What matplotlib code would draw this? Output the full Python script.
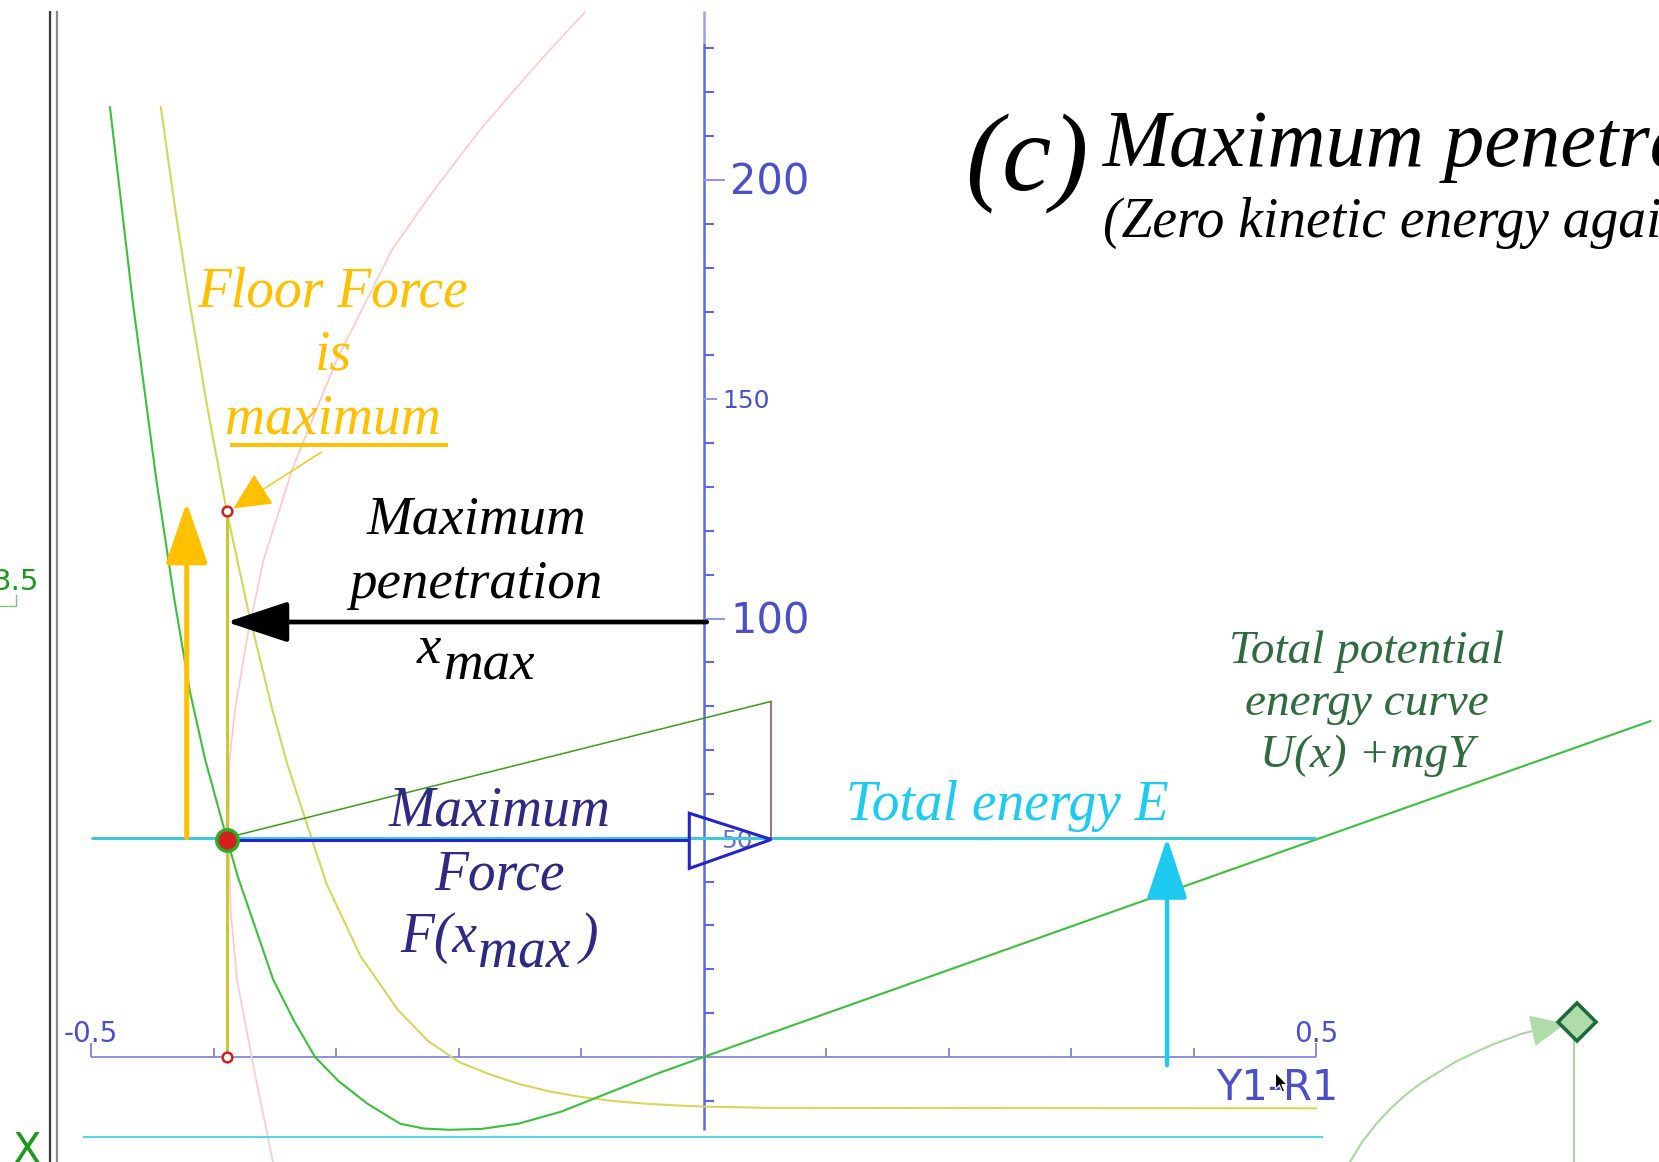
import numpy as np
import matplotlib.pyplot as plt
from matplotlib.path import Path

plt.rcParams['font.family'] = ['DejaVu Sans']
SERIF = 'Liberation Serif'

# total potential energy U(x) + mgY
green_x = [-0.4845, -0.466, -0.4465, -0.4318, -0.419, -0.4067, -0.3893, -0.380, -0.3512,
           -0.334, -0.3171, -0.2979, -0.2746, -0.2478, -0.2288, -0.2073, -0.1813, -0.1511,
           -0.1166, -0.0777, -0.0389, 0.0, 0.25, 0.5, 0.773]
green_y = [216.6, 172.4, 131.3, 104.1, 83.0, 67.7, 50.0, 41.0, 17.6,
           8.1, 0.0, -5.5, -10.6, -15.2, -16.3, -16.6, -16.4, -15.2,
           -12.5, -8.2, -3.9, 0.0, 24.8, 49.6, 76.6]

# floor force curve
floor_x = [-0.443, -0.4315, -0.4197, -0.4045, -0.3893, -0.371, -0.3525, -0.3398, -0.3076,
           -0.28, -0.2494, -0.225, -0.200, -0.175, -0.150, -0.125, -0.100, -0.075,
           -0.050, -0.025, 0.0, 0.05, 0.5]
floor_y = [216.6, 193.8, 172.4, 147.3, 124.6, 101.0, 79.8, 66.8, 39.4,
           23.0, 10.7, 3.7, -1.1, -3.9, -6.2, -7.9, -9.1, -10.0,
           -10.6, -11.0, -11.3, -11.6, -11.7]

# faint pink curve
pink_x = [-0.0967, -0.1364, -0.1813, -0.2211, -0.2547, -0.2997, -0.3351, -0.3592,
          -0.3722, -0.3826, -0.3869, -0.3877, -0.3860, -0.3808, -0.3670, -0.3515]
pink_y = [238.3, 226.3, 211.8, 197.3, 183.9, 158.8, 134.5, 113.3,
          96.1, 79.0, 67.7, 50.4, 33.5, 17.6, -2.7, -23.9]

energy_E = 50.0
x_max = -0.3893
f_max = 124.6
force_level = 49.6

# maximum force arrow head (outline)
force_head_x = [-0.0116, 0.0553, -0.0116, -0.0116]
force_head_y = [55.6, 49.6, 43.0, 55.6]

# slope line and its vertical leg
slope_x = [x_max, 0.0553]
slope_y = [50.0, 81.1]

# small dial at the lower right
arc_x = [0.5278, 0.5376, 0.5496, 0.5604, 0.5713, 0.5845, 0.5985, 0.6139, 0.6312,
         0.6441, 0.6584, 0.6673, 0.6802]
arc_y = [-23.9, -19.4, -15.1, -11.9, -9.05, -6.2, -3.7, -1.1, 1.2,
         2.85, 4.3, 5.25, 6.2]
dial_x, dial_y = 0.7128, 8.05

y_ticks = list(range(-10, 240, 10))
x_ticks = [-0.5, -0.4, -0.3, -0.2, -0.1, 0.0, 0.1, 0.2, 0.3, 0.4, 0.5]

AXIS_BLUE = '#5a68e6'
LABEL_BLUE = '#4b50c8'
ORANGE = '#ffc000'
CYAN = '#1ecbf0'

fig = plt.figure(figsize=(16.59, 11.62), dpi=100)
ax = fig.add_axes([0, 0, 1, 1])
ax.set_xlim(-0.57429, 0.78)
ax.set_ylim(-23.945, 241.05)
ax.axis('off')

# window frame on the left
ax.vlines(-0.5335, -23.945, 238.5, color='#3a3a3a', lw=1.6)
ax.vlines(-0.5278, -23.945, 238.5, color='#8a8a8a', lw=1.6)

# vertical force axis
ax.vlines(0, 231.2, 238.5, color='#9aa0e6', lw=1.8, zorder=2)
ax.vlines(0, -16.6, 231.2, color=AXIS_BLUE, lw=1.8, zorder=2)
for t in y_ticks:
    if t in (100, 200):
        ax.hlines(t, 0, 0.0176, color='#9098e0', lw=1.5, zorder=2)
    elif t in (50, 150):
        ax.hlines(t, 0, 0.0108, color='#9098e0', lw=1.5, zorder=2)
    else:
        ax.hlines(t, 0, 0.0082, color=AXIS_BLUE, lw=1.5, zorder=2)
ax.text(0.0216, 196.6, '200', fontsize=30, color=LABEL_BLUE, va='baseline')
ax.text(0.0216, 96.6, '100', fontsize=30, color=LABEL_BLUE, va='baseline')
ax.text(0.0149, 148.0, '150', fontsize=18, color=LABEL_BLUE, va='baseline')
ax.text(0.0140, 47.7, '50', fontsize=18, color='#6a70c8', va='baseline', zorder=1)

# horizontal position axis
ax.hlines(0, -0.5, 0.5, color='#8c90e0', lw=1.4, zorder=2)
for t in x_ticks:
    h = 3.2 if abs(t) == 0.5 else 2.0
    ax.vlines(t, 0, h, color='#7c80d8', lw=1.3, zorder=2)
ax.text(-0.5, 3.4, '-0.5', fontsize=20, color=LABEL_BLUE, ha='center', va='baseline')
ax.text(0.5, 3.4, '0.5', fontsize=20, color=LABEL_BLUE, ha='center', va='baseline')
ax.text(0.5184, -9.8, 'Y1-R1', fontsize=30, color=LABEL_BLUE, ha='right', va='baseline')

# curves
ax.plot(pink_x, pink_y, color='#ffc8c8', lw=1.2, zorder=3)
ax.plot(floor_x, floor_y, color='#d6d65a', lw=1.5, zorder=3)
ax.plot(green_x, green_y, color='#3cc03c', lw=1.5, zorder=3)

# energy lines
ax.hlines(energy_E, -0.5, 0.5, color='#40c8d8', lw=2.2, zorder=4)
ax.hlines(-18.3, -0.5068, 0.5055, color='#30d0f0', lw=1.2, zorder=3)

# slope triangle
ax.plot(slope_x, slope_y, color='#3a9a1a', lw=1.1, zorder=4)
ax.vlines(slope_x[1], force_level, slope_y[1], color='#8a5a5a', lw=1.2, zorder=4)

# maximum force line and arrow head
ax.hlines(force_level, x_max, force_head_x[0], color='#2424c8', lw=2.2, zorder=5)
ax.fill(force_head_x, force_head_y, facecolor='none', edgecolor='#2424c8', lw=2.2, zorder=5)

# floor force at maximum penetration
ax.vlines(x_max, 0, f_max, color='#c8c830', lw=2.2, zorder=5)
ax.plot([x_max, x_max], [0, f_max], 'o', ms=7, mfc='white', mec='#d02020', mew=1.8, zorder=6)
ax.plot(x_max, force_level, 'o', ms=15.5, mfc='#d42020', mec='#28b028', mew=2.4, zorder=7)


def arrow(x0, y0, x1, y1, color, lw, hl, hw, z=6):
    ax.annotate('', xy=(x1, y1), xytext=(x0, y0), zorder=z,
                arrowprops=dict(arrowstyle=f'-|>,head_length={hl},head_width={hw}',
                                color=color, lw=lw, shrinkA=0, shrinkB=0,
                                mutation_scale=1))


arrow(-0.4219, energy_E, -0.4219, 126.5, ORANGE, 3.6, 38, 13)
arrow(0.0026, 99.2, x_max, 99.2, 'black', 3.4, 38, 12.6)
arrow(0.3784, -1.8, 0.3784, 50.0, CYAN, 3.2, 38, 12.6)
arrow(-0.3117, 138.0, -0.3838, 125.1, ORANGE, 1.0, 24, 11.5)
ax.hlines(139.6, -0.3865, -0.2083, color=ORANGE, lw=2.8, zorder=6)

# dial decoration
ax.plot(arc_x, arc_y, color='#a8d8a0', lw=1.5, zorder=3)
arrow(arc_x[-1], arc_y[-1], 0.7037, 7.6, '#b0dcaa', 1.5, 22, 10, z=4)
ax.vlines(0.7106, -23.945, dial_y, color='#a8d8a0', lw=1.5, zorder=3)
ax.plot(dial_x, dial_y, 'D', ms=19, mfc='#b0dcaa', mec='#1d6b3c', mew=2.6, zorder=5)

# mouse pointer
pointer = Path([(0, 0), (0, -17), (4, -13), (7, -20), (9.5, -19), (6.5, -12.5), (12, -12.5), (0, 0)])
ax.plot(0.4665, -3.35, marker=pointer, ms=28, mfc='black', mec='white', mew=0.8, zorder=8)

# window labels
ax.text(-0.5425, 106.5, '3.5', fontsize=21, color='#1a9a1a', ha='right', va='baseline')
ax.plot([-0.5743, -0.5612, -0.5612], [102.9, 102.9, 105.4], color='#80c080', lw=1.0)
ax.text(-0.5637, -24.2, 'X', fontsize=30, color='#1a9a1a', va='baseline')

# annotations
ser = dict(family=SERIF, style='italic')
ax.text(0.2135, 197.7, '(c)', fontsize=80, color='black', va='baseline', **ser)
ax.text(0.3261, 203.2, 'Maximum penetration', fontsize=58, color='black', va='baseline', **ser)
ax.text(0.3261, 187.1, '(Zero kinetic energy against the floor)', fontsize=40,
        color='black', va='baseline', **ser)

for txt, y in [('Floor Force', 171.1), ('is', 156.7), ('maximum', 142.3)]:
    ax.text(-0.3024, y, txt, fontsize=40, color=ORANGE, ha='center', va='baseline', zorder=9, **ser)

for txt, y in [('Maximum', 119.4), ('penetration', 104.6)]:
    ax.text(-0.1857, y, txt, fontsize=39.5, color='black', ha='center', va='baseline', zorder=9, **ser)
ax.text(-0.2341, 89.9, 'x', fontsize=39.5, color='black', va='baseline', zorder=9, **ser)
ax.text(-0.2127, 86.0, 'max', fontsize=39.5, color='black', va='baseline', zorder=9, **ser)

NAVY = '#2e2a84'
for txt, y in [('Maximum', 52.9), ('Force', 38.3)]:
    ax.text(-0.1661, y, txt, fontsize=40, color=NAVY, ha='center', va='baseline', zorder=9, **ser)
ax.text(-0.2478, 23.9, 'F(x', fontsize=40, color=NAVY, va='baseline', zorder=9, **ser)
ax.text(-0.184, 20.3, 'max', fontsize=40, color=NAVY, va='baseline', zorder=9, **ser)
ax.text(-0.1008, 23.9, ')', fontsize=40, color=NAVY, va='baseline', zorder=9, **ser)

ax.text(0.1163, 54.0, 'Total energy E', fontsize=40, color=CYAN, va='baseline', zorder=9, **ser)

for txt, y in [('Total potential', 89.9), ('energy curve', 78.0), ('U(x) +mgY', 66.2)]:
    ax.text(0.5416, y, txt, fontsize=34, color='#2e6b3e', ha='center', va='baseline', zorder=9, **ser)

fig.savefig('out.png', dpi=100)
